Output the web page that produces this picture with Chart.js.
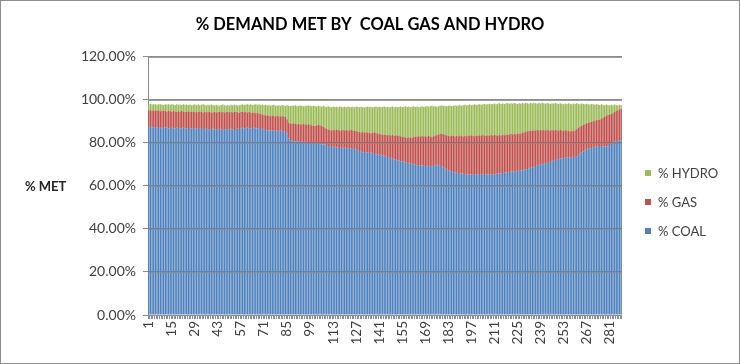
<!DOCTYPE html>
<html lang="en">
<head>
<meta charset="UTF-8">
<title>% Demand Met by Coal Gas and Hydro</title>
<script src="https://cdn.jsdelivr.net/npm/chart.js"></script>
<style>
  body { margin: 0; background: #fff; }
  .wrap { position: relative; width: 740px; height: 364px; }
  .wrap::after { content: ""; position: absolute; inset: 0; border: 1px solid #8c8c8c; pointer-events: none; }
  canvas { position: absolute; left: 0; top: 0; }
  .ytitle { position: absolute; left: 25px; top: 178px; font: bold 13px Lato, sans-serif; color: #262626; }
  .legend { position: absolute; left: 645px; top: 158px; font: 13px Lato, sans-serif; color: #404040; }
  .legend .item { height: 29px; display: flex; align-items: center; }
  .legend .box { width: 6px; height: 6px; margin-right: 7px; }
</style>
</head>
<body>
<div class="wrap">
  <canvas id="demandChart" width="740" height="364"></canvas>
  <div class="ytitle">% MET</div>
  <div class="legend" id="legend"></div>
</div>

<script>
// 288 intervals, x labels every 14th
const categories = Array.from({ length: 288 }, (_, i) => String(i + 1));
const labelEvery = 14;
const yTicks = [0, 20, 40, 60, 80, 100, 120];

// share of demand met (%)
const coal = [
  87.3, 87.5, 87.2, 87.0, 87.4, 87.1, 86.9, 87.2, 86.8, 87.0, 87.3, 87.1, 86.7, 86.9, 87.0, 86.6, 86.8, 87.1, 86.9, 86.7, 86.8, 87.0, 86.6, 86.8,
  86.9, 86.5, 86.7, 86.9, 86.6, 86.8, 86.4, 86.6, 86.9, 86.5, 86.3, 86.6, 86.4, 86.2, 86.5, 86.7, 86.3, 86.1, 86.4, 86.6, 86.2, 86.0, 86.3, 86.5,
  86.1, 86.3, 86.6, 86.2, 86.0, 86.4, 86.7, 86.5, 86.8, 87.0, 86.7, 86.9, 87.1, 86.8, 86.6, 86.9, 87.1, 86.8, 86.7, 86.9, 86.5, 86.6, 86.3, 86.0,
  85.8, 85.6, 85.9, 85.7, 85.5, 85.8, 85.6, 85.4, 85.7, 85.5, 85.3, 85.1, 84.2, 82.0, 81.3, 81.0, 80.8, 80.6, 80.9, 80.7, 80.4, 80.6, 80.3, 80.5,
  80.2, 80.4, 80.1, 80.3, 80.0, 79.6, 79.8, 79.5, 79.7, 79.4, 79.2, 79.4, 79.0, 78.6, 78.3, 78.1, 77.9, 78.2, 77.8, 77.9, 77.6, 77.8, 77.5, 77.7,
  77.4, 77.6, 77.3, 77.5, 77.1, 77.3, 77.0, 76.6, 76.2, 75.9, 75.6, 75.8, 75.4, 75.6, 75.3, 75.5, 75.2, 74.8, 74.9, 74.6, 74.3, 74.5, 74.1, 74.2,
  73.8, 73.4, 73.1, 72.8, 72.6, 72.3, 72.1, 71.9, 71.7, 71.4, 71.5, 71.2, 70.9, 70.7, 70.5, 70.3, 70.4, 70.1, 69.8, 69.6, 69.7, 69.5, 69.4, 69.6,
  69.3, 69.1, 69.4, 69.2, 69.0, 69.3, 69.6, 69.8, 69.5, 69.2, 68.9, 68.5, 68.0, 67.5, 67.1, 66.9, 66.7, 66.5, 66.3, 66.1, 66.0, 65.9, 65.8, 65.6,
  65.5, 65.4, 65.3, 65.2, 65.3, 65.1, 65.2, 65.4, 65.3, 65.5, 65.4, 65.6, 65.5, 65.3, 65.2, 65.4, 65.3, 65.5, 65.4, 65.6, 65.7, 65.8, 65.9, 66.0,
  66.1, 66.3, 66.4, 66.5, 66.7, 66.6, 66.8, 66.9, 67.0, 66.9, 67.1, 67.3, 67.5, 67.6, 67.8, 68.1, 68.4, 68.7, 68.9, 69.2, 69.5, 69.7, 69.9, 70.1,
  70.3, 70.5, 70.6, 70.8, 71.1, 71.4, 71.7, 72.0, 72.2, 72.5, 72.7, 72.9, 73.0, 73.1, 73.2, 73.1, 73.3, 73.4, 73.5, 73.4, 73.8, 74.5, 75.0, 75.5,
  76.0, 76.6, 77.0, 77.3, 77.4, 77.6, 77.9, 78.1, 78.3, 78.5, 78.6, 78.5, 78.4, 78.3, 78.2, 78.4, 79.0, 79.6, 80.2, 80.5, 80.7, 80.9, 81.0, 81.2
];

const gas = [
  7.7, 7.7, 7.7, 8.1, 7.4, 7.9, 8.2, 7.5, 8.1, 8.0, 7.5, 7.5, 8.2, 7.8, 7.5, 8.2, 7.8, 7.3, 7.8, 7.8, 8.0, 7.6, 7.7, 7.7,
  7.8, 7.9, 7.9, 7.4, 7.9, 7.4, 8.0, 8.0, 7.4, 7.6, 8.1, 7.6, 8.1, 8.1, 7.5, 7.5, 8.1, 8.0, 7.9, 7.9, 8.0, 8.4, 7.8, 7.8,
  8.4, 7.9, 7.8, 7.9, 8.3, 8.1, 7.5, 7.5, 7.5, 7.5, 7.5, 7.5, 7.0, 7.5, 7.4, 7.0, 7.0, 7.0, 7.3, 6.8, 7.0, 6.6, 6.6, 6.7,
  7.0, 7.0, 6.5, 7.0, 7.0, 6.5, 7.0, 7.0, 6.5, 7.0, 7.0, 7.0, 6.8, 7.5, 7.7, 7.8, 8.3, 8.3, 7.7, 8.1, 8.1, 8.1, 8.6, 8.1,
  8.2, 8.3, 8.4, 7.9, 8.0, 8.2, 8.3, 8.9, 8.5, 8.5, 8.3, 7.6, 7.5, 7.6, 7.7, 7.7, 8.2, 7.7, 8.4, 8.1, 8.1, 8.1, 8.6, 8.1,
  8.6, 8.1, 8.6, 8.6, 8.7, 8.2, 8.6, 8.6, 8.8, 8.9, 9.4, 8.9, 9.5, 9.0, 9.5, 9.0, 9.5, 10.1, 9.7, 9.8, 9.9, 9.5, 9.7, 9.4,
  10.0, 10.1, 10.6, 10.6, 11.0, 11.0, 11.4, 11.3, 11.7, 11.7, 11.4, 11.5, 11.6, 11.7, 12.1, 12.0, 12.1, 12.6, 13.2, 13.2, 13.4, 13.4, 13.8, 13.4,
  13.8, 13.8, 13.8, 13.8, 13.8, 13.8, 13.8, 13.8, 14.4, 14.9, 15.3, 15.5, 15.7, 16.0, 16.2, 16.2, 16.7, 16.7, 16.7, 17.2, 17.1, 17.5, 17.4, 17.4,
  17.8, 17.7, 18.1, 18.0, 18.2, 18.2, 17.9, 18.0, 17.9, 18.0, 17.9, 18.0, 17.9, 17.9, 18.3, 17.9, 18.3, 17.9, 18.3, 17.9, 17.6, 17.8, 17.5, 17.7,
  17.4, 17.5, 17.2, 17.4, 17.4, 17.3, 17.4, 17.1, 17.3, 17.2, 17.3, 17.3, 17.4, 17.6, 17.6, 17.5, 17.4, 16.9, 17.0, 16.5, 16.5, 16.1, 16.2, 15.8,
  15.7, 15.3, 15.5, 15.1, 14.6, 14.6, 14.1, 14.1, 13.7, 13.2, 13.3, 12.9, 12.6, 12.8, 12.5, 12.4, 12.0, 12.2, 11.9, 12.3, 12.5, 12.5, 12.6, 12.5,
  12.3, 12.1, 12.1, 12.1, 12.2, 12.2, 12.1, 12.2, 12.2, 12.2, 12.3, 12.8, 13.4, 14.0, 14.4, 14.5, 14.1, 13.8, 13.6, 13.8, 14.1, 14.3, 14.5, 14.6
];

const hydro = [
  2.9, 3.0, 2.9, 2.8, 3.2, 2.7, 2.8, 3.3, 2.9, 2.6, 3.1, 3.2, 3.1, 3.0, 3.4, 3.0, 3.0, 3.5, 3.0, 3.3, 2.8, 3.3, 3.4, 3.3,
  2.9, 3.4, 2.9, 3.4, 3.4, 3.4, 3.4, 2.9, 3.4, 3.8, 3.2, 3.2, 3.2, 3.2, 3.8, 3.4, 3.0, 3.6, 3.2, 2.8, 3.4, 3.4, 3.4, 3.0,
  3.1, 3.2, 3.3, 3.4, 3.5, 3.1, 3.1, 3.5, 3.4, 3.4, 3.4, 3.4, 3.9, 3.4, 3.9, 3.7, 3.7, 4.2, 3.7, 4.2, 4.1, 4.6, 4.6, 5.0,
  4.6, 5.0, 4.9, 4.8, 5.2, 5.1, 4.6, 5.1, 5.1, 5.1, 5.1, 5.1, 6.5, 7.8, 8.1, 8.6, 8.1, 8.6, 8.7, 8.3, 8.9, 8.5, 8.1, 8.7,
  8.7, 8.7, 8.7, 8.8, 9.3, 9.3, 8.8, 8.8, 8.8, 8.9, 9.6, 9.9, 10.2, 10.8, 10.8, 10.8, 10.8, 10.8, 10.6, 10.6, 11.2, 10.8, 10.4, 11.0,
  10.6, 11.2, 10.8, 10.4, 11.0, 11.1, 11.3, 11.5, 11.5, 12.0, 11.6, 11.7, 11.8, 12.3, 11.8, 12.3, 11.8, 11.8, 12.3, 12.2, 12.6, 12.5, 12.9, 13.3,
  12.8, 13.3, 12.8, 13.3, 13.3, 13.3, 13.3, 13.3, 13.3, 13.8, 13.7, 14.1, 14.5, 14.3, 14.3, 14.3, 14.3, 14.3, 13.7, 14.1, 13.5, 13.9, 13.8, 13.7,
  13.8, 14.2, 13.6, 14.0, 14.4, 13.8, 13.7, 13.2, 13.1, 13.1, 13.2, 13.1, 13.6, 13.5, 13.9, 14.3, 13.7, 14.1, 14.5, 13.9, 14.3, 14.2, 14.1, 14.5,
  14.4, 14.3, 14.2, 14.6, 14.0, 14.4, 14.8, 14.2, 14.6, 14.5, 14.4, 14.3, 14.7, 14.6, 14.5, 14.9, 14.3, 14.7, 14.6, 14.5, 14.9, 14.8, 14.7, 14.6,
  14.6, 14.5, 14.9, 14.3, 14.3, 14.3, 14.3, 14.3, 13.8, 14.3, 13.8, 13.9, 13.4, 13.4, 13.0, 12.6, 12.7, 12.7, 12.7, 12.7, 12.2, 12.7, 12.2, 12.7,
  12.4, 12.4, 12.4, 12.4, 12.4, 12.4, 12.4, 12.4, 12.4, 12.4, 12.4, 12.4, 12.4, 12.4, 12.4, 12.9, 12.9, 12.4, 12.9, 12.4, 12.1, 11.2, 10.4, 10.3,
  9.8, 9.2, 9.1, 8.6, 8.2, 8.3, 7.9, 7.4, 7.5, 7.1, 6.7, 6.6, 5.9, 5.2, 5.2, 4.7, 4.3, 4.3, 3.7, 3.5, 2.8, 2.2, 2.2, 1.7
];

const seriesNames = ['% COAL', '% GAS', '% HYDRO'];
const seriesColors = ['#4f81bd', '#c0504d', '#9bbb59'];
const gridColor = '#8c8c8c';

// Excel draws the gridlines over the bars here, so repaint them after the datasets
const gridOnTop = {
  id: 'gridOnTop',
  afterDatasetsDraw(chart) {
    const y = chart.scales.y;
    const ctx = chart.ctx;
    ctx.save();
    ctx.strokeStyle = 'rgba(140,140,140,0.85)';
    ctx.lineWidth = 1;
    y.ticks.forEach(t => {
      const py = Math.round(y.getPixelForValue(t.value)) + 0.5;
      ctx.beginPath();
      ctx.moveTo(chart.chartArea.left, py);
      ctx.lineTo(chart.chartArea.right, py);
      ctx.stroke();
    });
    ctx.restore();
  }
};

const chart = new Chart(document.getElementById('demandChart'), {
  type: 'bar',
  data: {
    labels: categories,
    datasets: [coal, gas, hydro].map((d, i) => ({
      label: seriesNames[i],
      data: d,
      backgroundColor: seriesColors[i],
      borderWidth: 0,
      categoryPercentage: 1,
      barPercentage: 0.85
    }))
  },
  options: {
    responsive: false,
    animation: false,
    layout: { padding: 0 },
    plugins: {
      legend: { display: false },
      tooltip: { enabled: false },
      title: {
        display: true,
        text: '% DEMAND MET BY  COAL GAS AND HYDRO',
        color: '#000',
        font: { family: 'Lato', size: 16.5, weight: 'bold' },
        padding: { top: 15, bottom: 22 }
      }
    },
    scales: {
      x: {
        stacked: true,
        grid: { drawOnChartArea: false, color: gridColor, tickLength: 4 },
        border: { display: false },
        ticks: {
          autoSkip: false,
          minRotation: 90,
          maxRotation: 90,
          padding: 2,
          color: '#404040',
          font: { family: 'Lato', size: 13.5 },
          callback: (v, i) => (i % labelEvery === 0 ? categories[i] : '')
        },
        afterFit: s => { s.height = 49; }
      },
      y: {
        stacked: true,
        min: 0,
        max: 120,
        afterBuildTicks: s => { s.ticks = yTicks.map(v => ({ value: v })); },
        grid: { color: gridColor, tickLength: 5 },
        border: { display: true, color: gridColor },
        ticks: {
          padding: 7,
          color: '#404040',
          font: { family: 'Lato', size: 14 },
          callback: v => v.toFixed(2) + '%'
        },
        afterFit: s => { s.width = 148; }
      },
      // empty right axis that keeps room for the legend, so the title stays centred on the page
      legendSpace: {
        position: 'right',
        display: true,
        grid: { display: false },
        border: { display: false },
        ticks: { display: false },
        afterFit: s => { s.width = 118; }
      }
    }
  },
  plugins: [gridOnTop]
});

// legend, hydro on top like the original
const legend = document.getElementById('legend');
chart.data.datasets.slice().reverse().forEach(ds => {
  const item = document.createElement('div');
  item.className = 'item';
  item.innerHTML = '<span class="box" style="background:' + ds.backgroundColor + '"></span>' + ds.label;
  legend.appendChild(item);
});
</script>
</body>
</html>
